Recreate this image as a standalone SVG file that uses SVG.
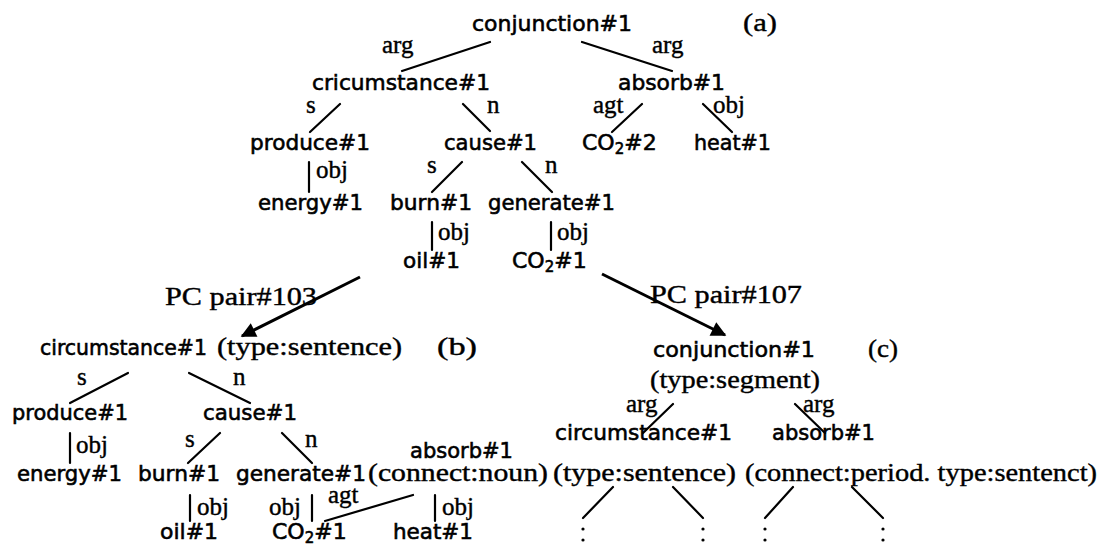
<svg xmlns="http://www.w3.org/2000/svg" width="1099" height="547" viewBox="0 0 1099 547">
  <style>
    .node { font-family: "DejaVu Sans", "Liberation Sans", sans-serif; font-size: 22px; fill: #000; stroke: #000; stroke-width: 0.6px; }
    .sub { font-size: 15px; }
    .lbl { font-family: "Liberation Serif", "DejaVu Serif", serif; font-size: 25px; fill: #000; stroke: #000; stroke-width: 0.4px; }
    .ann { font-family: "Liberation Serif", "DejaVu Serif", serif; font-size: 26px; fill: #000; stroke: #000; stroke-width: 0.4px; }
    .edge { stroke: #000; stroke-width: 2.2; fill: none; stroke-linecap: round; }
    .arrow { stroke: #000; stroke-width: 3; fill: none; }
    .dot { fill: #000; }
  </style>
  <defs>
    <marker id="head" viewBox="0 0 10 10" refX="9" refY="5" markerWidth="9" markerHeight="5" markerUnits="strokeWidth" orient="auto">
      <path d="M0,0 L10,5 L0,10 z" fill="#000"/>
    </marker>
  </defs>

  <!-- ===== tree (a) ===== -->
  <g id="a-conjunction"><text class="node" x="472" y="31" textLength="160" lengthAdjust="spacingAndGlyphs">conjunction#1</text></g>
  <g id="a-tag"><text class="ann" x="743" y="31" textLength="34" lengthAdjust="spacingAndGlyphs">(a)</text></g>
  <g id="a-cricumstance"><text class="node" x="312" y="90" textLength="178" lengthAdjust="spacingAndGlyphs">cricumstance#1</text></g>
  <g id="a-absorb"><text class="node" x="618" y="90" textLength="107" lengthAdjust="spacingAndGlyphs">absorb#1</text></g>
  <g id="a-produce"><text class="node" x="250" y="150" textLength="120" lengthAdjust="spacingAndGlyphs">produce#1</text></g>
  <g id="a-cause"><text class="node" x="444" y="150" textLength="93" lengthAdjust="spacingAndGlyphs">cause#1</text></g>
  <g id="a-co2-2"><text class="node" x="582" y="150">CO<tspan class="sub" dy="4">2</tspan><tspan dy="-4">#2</tspan></text></g>
  <g id="a-heat"><text class="node" x="694" y="150" textLength="77" lengthAdjust="spacingAndGlyphs">heat#1</text></g>
  <g id="a-energy"><text class="node" x="258" y="210" textLength="105" lengthAdjust="spacingAndGlyphs">energy#1</text></g>
  <g id="a-burn"><text class="node" x="390" y="210" textLength="82" lengthAdjust="spacingAndGlyphs">burn#1</text></g>
  <g id="a-generate"><text class="node" x="488" y="210" textLength="127" lengthAdjust="spacingAndGlyphs">generate#1</text></g>
  <g id="a-oil"><text class="node" x="403" y="268" textLength="57" lengthAdjust="spacingAndGlyphs">oil#1</text></g>
  <g id="a-co2-1"><text class="node" x="512" y="268">CO<tspan class="sub" dy="4">2</tspan><tspan dy="-4">#1</tspan></text></g>

  <!-- ===== tree (b) ===== -->
  <g id="b-circumstance">
    <text class="node" x="40" y="355" textLength="167" lengthAdjust="spacingAndGlyphs">circumstance#1</text>
    <text class="ann" x="217" y="355" textLength="185" lengthAdjust="spacingAndGlyphs">(type:sentence)</text>
  </g>
  <g id="b-tag"><text class="ann" x="437" y="355" textLength="40" lengthAdjust="spacingAndGlyphs">(b)</text></g>
  <g id="b-produce"><text class="node" x="12" y="420" textLength="116" lengthAdjust="spacingAndGlyphs">produce#1</text></g>
  <g id="b-cause"><text class="node" x="203" y="420" textLength="94" lengthAdjust="spacingAndGlyphs">cause#1</text></g>
  <g id="b-absorb">
    <text class="node" x="410" y="458" textLength="103" lengthAdjust="spacingAndGlyphs">absorb#1</text>
    <text class="ann" x="368" y="481" textLength="180" lengthAdjust="spacingAndGlyphs">(connect:noun)</text>
  </g>
  <g id="b-energy"><text class="node" x="17" y="481" textLength="105" lengthAdjust="spacingAndGlyphs">energy#1</text></g>
  <g id="b-burn"><text class="node" x="138" y="481" textLength="82" lengthAdjust="spacingAndGlyphs">burn#1</text></g>
  <g id="b-generate"><text class="node" x="236" y="481" textLength="130" lengthAdjust="spacingAndGlyphs">generate#1</text></g>
  <g id="b-oil"><text class="node" x="160" y="539" textLength="58" lengthAdjust="spacingAndGlyphs">oil#1</text></g>
  <g id="b-co2"><text class="node" x="272" y="539">CO<tspan class="sub" dy="4">2</tspan><tspan dy="-4">#1</tspan></text></g>
  <g id="b-heat"><text class="node" x="393" y="539" textLength="80" lengthAdjust="spacingAndGlyphs">heat#1</text></g>

  <!-- ===== tree (c) ===== -->
  <g id="c-conjunction">
    <text class="node" x="653" y="357" textLength="162" lengthAdjust="spacingAndGlyphs">conjunction#1</text>
    <text class="ann" x="650" y="388" textLength="170" lengthAdjust="spacingAndGlyphs">(type:segment)</text>
  </g>
  <g id="c-tag"><text class="ann" x="868" y="357" textLength="30" lengthAdjust="spacingAndGlyphs">(c)</text></g>
  <g id="c-circumstance">
    <text class="node" x="555" y="440" textLength="177" lengthAdjust="spacingAndGlyphs">circumstance#1</text>
    <text class="ann" x="553" y="481" textLength="183" lengthAdjust="spacingAndGlyphs">(type:sentence)</text>
  </g>
  <g id="c-absorb">
    <text class="node" x="772" y="440" textLength="103" lengthAdjust="spacingAndGlyphs">absorb#1</text>
    <text class="ann" x="745" y="481" textLength="352" lengthAdjust="spacingAndGlyphs">(connect:period. type:sentenct)</text>
  </g>

  <!-- ===== connectors and their labels ===== -->
  <g id="connectors">
    <!-- (a) -->
    <path class="edge" d="M490,42 L402,71 M582,42 L672,71"/>
    <text class="lbl" x="382" y="53">arg</text>
    <text class="lbl" x="652" y="53">arg</text>
    <path class="edge" d="M340,104 L310,132 M463,104 L490,131 M642,104 L612,132 M703,104 L732,132"/>
    <text class="lbl" x="306" y="113">s</text>
    <text class="lbl" x="487" y="113">n</text>
    <text class="lbl" x="593" y="113">agt</text>
    <text class="lbl" x="713" y="113">obj</text>
    <path class="edge" d="M309,162 L309,192"/>
    <text class="lbl" x="316" y="178">obj</text>
    <path class="edge" d="M462,162 L432,192 M522,162 L552,192"/>
    <text class="lbl" x="427" y="173">s</text>
    <text class="lbl" x="545" y="173">n</text>
    <path class="edge" d="M432,222 L432,250 M551,222 L551,250"/>
    <text class="lbl" x="438" y="240">obj</text>
    <text class="lbl" x="557" y="240">obj</text>

    <!-- PC pair arrows -->
    <path class="arrow" d="M360,277 L242,336" marker-end="url(#head)"/>
    <path class="arrow" d="M602,274 L725,335" marker-end="url(#head)"/>
    <text class="ann" x="165" y="305" textLength="152" lengthAdjust="spacingAndGlyphs">PC pair#103</text>
    <text class="ann" x="650" y="303" textLength="152" lengthAdjust="spacingAndGlyphs">PC pair#107</text>

    <!-- (b) -->
    <path class="edge" d="M128,373 L70,403 M189,373 L250,403"/>
    <text class="lbl" x="77" y="385">s</text>
    <text class="lbl" x="233" y="385">n</text>
    <path class="edge" d="M70,433 L70,463"/>
    <text class="lbl" x="76" y="453">obj</text>
    <path class="edge" d="M220,433 L188,463 M282,433 L312,463"/>
    <text class="lbl" x="185" y="447">s</text>
    <text class="lbl" x="305" y="447">n</text>
    <path class="edge" d="M190,495 L190,521 M312,495 L312,521 M435,495 L435,521 M413,495 L325,521"/>
    <text class="lbl" x="197" y="515">obj</text>
    <text class="lbl" x="269" y="515">obj</text>
    <text class="lbl" x="328" y="503">agt</text>
    <text class="lbl" x="442" y="515">obj</text>

    <!-- (c) -->
    <path class="edge" d="M673,404 L643,433 M795,404 L825,433"/>
    <text class="lbl" x="626" y="412">arg</text>
    <text class="lbl" x="803" y="412">arg</text>
    <path class="edge" d="M613,487 L583,518 M673,487 L703,518 M793,487 L765,518 M852,487 L883,518"/>
    <circle class="dot" cx="583" cy="529" r="1.6"/><circle class="dot" cx="583" cy="540" r="1.6"/>
    <circle class="dot" cx="703" cy="529" r="1.6"/><circle class="dot" cx="703" cy="540" r="1.6"/>
    <circle class="dot" cx="765" cy="529" r="1.6"/><circle class="dot" cx="765" cy="540" r="1.6"/>
    <circle class="dot" cx="883" cy="529" r="1.6"/><circle class="dot" cx="883" cy="540" r="1.6"/>
  </g>
</svg>
